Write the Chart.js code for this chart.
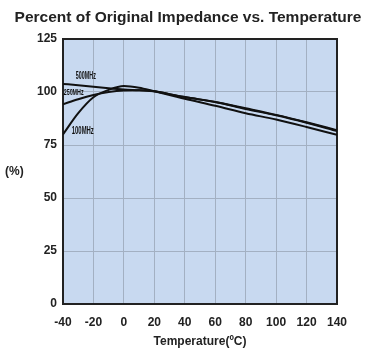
<!DOCTYPE html>
<html><head><meta charset="utf-8">
<script src="https://cdn.jsdelivr.net/npm/chart.js@4/dist/chart.umd.min.js"></script>
<style>html,body{margin:0;padding:0;background:#fff}canvas{display:block}</style>
</head><body>
<canvas id="c" width="374" height="357"></canvas>
<script>
const temps = [-40,-30,-20,-10,0,10,20,30,40,60,80,100,120,140];
const mhz500 = [103.8,103.2,102.5,101.8,101.2,100.8,100.3,99.0,97.6,95.3,92.3,89.2,85.7,82.0];
const mhz250 = [94.2,96.6,98.6,100.0,100.7,100.8,100.4,99.0,97.6,95.3,92.0,89.0,85.5,81.6];
const mhz100 = [80.0,90.0,97.5,101.0,102.8,102.0,100.3,98.6,96.8,93.5,90.0,87.0,83.5,79.8];
const xTicks = [-40,-20,0,20,40,60,80,100,120,140];
const yTicks = [0,25,50,75,100,125];
const seriesLabels = [
  {text:'500MHz', t:-25, v:107.2, size:10, w:20},
  {text:'250MHz', t:-33, v:99.8, size:8.5, w:20},
  {text:'100MHz', t:-27, v:81.6, size:10, w:22}
];
const titleText = 'Percent of Original Impedance vs. Temperature';

const pts = arr => temps.map((t,i)=>({x:t,y:arr[i]}));
const mk = (label, arr) => ({label, data:pts(arr), borderColor:'#111', borderWidth:2, pointRadius:0, fill:false, cubicInterpolationMode:'monotone'});

const deco = {
  id:'deco',
  beforeDraw(chart){
    const {ctx, chartArea:a} = chart;
    ctx.save();
    ctx.fillStyle = '#c8d9f0';
    ctx.fillRect(a.left, a.top, a.right-a.left, a.bottom-a.top);
    ctx.restore();
  },
  beforeDatasetsDraw(chart){
    const {ctx, chartArea:a} = chart;
    ctx.save();
    ctx.strokeStyle = '#222';
    ctx.lineWidth = 2;
    ctx.strokeRect(a.left, a.top, a.right-a.left, a.bottom-a.top);
    ctx.restore();
  },
  afterDraw(chart){
    const {ctx, scales:{x,y}} = chart;
    ctx.save();
    ctx.fillStyle = '#222';
    ctx.textAlign = 'center';
    ctx.textBaseline = 'middle';
    ctx.font = 'bold 15.5px "Liberation Sans", Arial, sans-serif';
    ctx.fillText(titleText, 188, 18);
    ctx.font = 'bold 12px "Liberation Sans", Arial, sans-serif';
    ctx.textAlign = 'left';
    ctx.fillText('(%)', 5, 172);
    ctx.fillStyle = '#111';
    ctx.textAlign = 'center';
    seriesLabels.forEach(l=>{
      ctx.font = 'bold ' + l.size + 'px "Liberation Sans", Arial, sans-serif';
      const mw = ctx.measureText(l.text).width;
      const sx = l.w / mw;
      ctx.save();
      ctx.translate(x.getPixelForValue(l.t), y.getPixelForValue(l.v));
      ctx.scale(sx, 1);
      ctx.fillText(l.text, 0, 0);
      ctx.restore();
    });
    ctx.restore();
  }
};

new Chart(document.getElementById('c'), {
  type:'line',
  data:{datasets:[mk('500MHz',mhz500), mk('250MHz',mhz250), mk('100MHz',mhz100)]},
  options:{
    responsive:false, animation:false,
    layout:{padding:{top:39, right:37, left:0, bottom:0}},
    plugins:{legend:{display:false}, title:{display:false}, tooltip:{enabled:false}},
    scales:{
      x:{type:'linear', min:-40, max:140,
        afterBuildTicks(s){ s.ticks = xTicks.map(v=>({value:v})); },
        afterFit(s){ s.height = 53; },
        grid:{color:'#a3b0c2', lineWidth:1, drawTicks:false},
        border:{display:false},
        ticks:{padding:11, color:'#222', font:{family:'"Liberation Sans", Arial, sans-serif', size:12, weight:'bold'}, maxRotation:0, autoSkip:false},
        title:{display:true, text:'Temperature(ºC)', color:'#222', padding:{top:0,bottom:8}, font:{family:'"Liberation Sans", Arial, sans-serif', size:12, weight:'bold'}}
      },
      y:{type:'linear', min:0, max:125,
        afterBuildTicks(s){ s.ticks = yTicks.map(v=>({value:v})); },
        afterFit(s){ s.width = 63; },
        grid:{color:'#a3b0c2', lineWidth:1, drawTicks:false},
        border:{display:false},
        ticks:{padding:6, color:'#222', font:{family:'"Liberation Sans", Arial, sans-serif', size:12, weight:'bold'}}
      }
    }
  },
  plugins:[deco]
});
</script>
</body></html>
